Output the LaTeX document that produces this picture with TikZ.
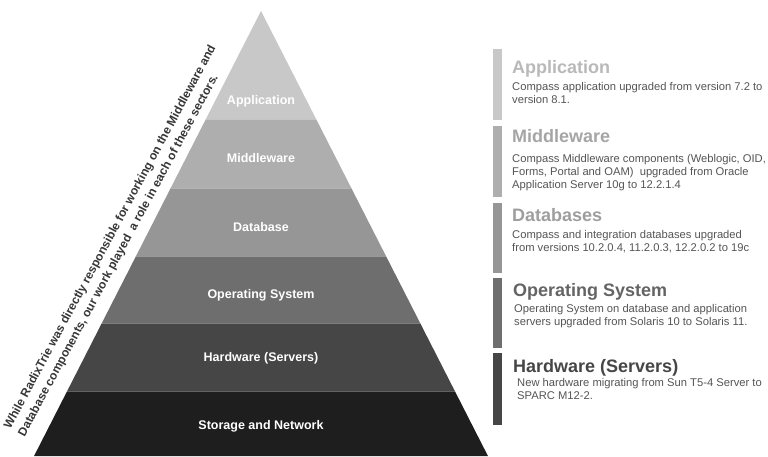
\documentclass[tikz,border=0pt]{standalone}
\usepackage{fontspec}
\setmainfont{Liberation Sans}
\definecolor{cApp}{RGB}{200,200,200}
\definecolor{cMid}{RGB}{174,174,174}
\definecolor{cDb}{RGB}{150,150,150}
\definecolor{cOs}{RGB}{110,110,110}
\definecolor{cHw}{RGB}{70,70,70}
\definecolor{cSt}{RGB}{30,30,30}
\definecolor{tApp}{RGB}{185,185,185}
\definecolor{tMid}{RGB}{165,165,165}
\definecolor{tDb}{RGB}{158,158,158}
\definecolor{tOs}{RGB}{100,100,100}
\definecolor{tHw}{RGB}{70,70,70}
\definecolor{descgray}{RGB}{85,85,85}
\definecolor{sidegray}{RGB}{55,55,55}
\newcommand\pyrband[3]{\fill[#3] ({261-0.51*(#1-11)},#1) -- ({261+0.51*(#1-11)},#1) -- ({261+0.51*(#2-11)},#2) -- ({261-0.51*(#2-11)},#2) -- cycle;}
\begin{document}
\begin{tikzpicture}[x=1pt,y=-1pt,
  lvl/.style={font=\bfseries\fontsize{12.5}{14}\selectfont, text=white, anchor=base, inner sep=0pt},
  ttl/.style={font=\bfseries\fontsize{18}{20}\selectfont, anchor=base west, inner sep=0pt},
  dsc/.style={font=\fontsize{11.2}{13}\selectfont, text=descgray, anchor=base west, inner sep=0pt, align=left},
  sidebar/.style={fill=#1, draw=none}
]
\useasboundingbox (0,0) rectangle (768,456);
\fill[white] (0,0) rectangle (768,456);
% pyramid
\fill[cApp] (261,11) -- ({261+0.51*(119-11)},119) -- ({261-0.51*(119-11)},119) -- cycle;
\pyrband{119}{188}{cMid}
\pyrband{188}{256}{cDb}
\pyrband{256}{323}{cOs}
\pyrband{323}{391}{cHw}
\pyrband{391}{456}{cSt}
\foreach \yy in {119,188,256,323,391}
  \draw[white, draw opacity=0.3, line width=0.8pt] ({261-0.51*(\yy-11)},\yy) -- ({261+0.51*(\yy-11)},\yy);
% pyramid labels
\node[lvl] (lapp) at (261,104) {Application};
\node[lvl] (lmid) at (261,162) {Middleware};
\node[lvl] (ldb)  at (261,231) {Database};
\node[lvl] (los)  at (261,298) {Operating System};
\node[lvl] (lhw)  at (261,361) {Hardware (Servers)};
\node[lvl] (lst)  at (261,429) {Storage and Network};
% rotated side text
\node[font=\bfseries\fontsize{12}{16}\selectfont, text=sidegray, align=left, rotate=61.7, inner sep=0pt] (side) at (117.5,241)
  {While RadixTrie was directly responsible for working on the Middleware and\\Database components, our work played\ \ a role in each of these sectors.};
% right side bars
\fill[sidebar=cApp] (493,49) rectangle (502,120);
\fill[sidebar=cMid] (493,126) rectangle (502,197);
\fill[sidebar=cDb]  (493,203) rectangle (502,273);
\fill[sidebar=cOs]  (493,278) rectangle (502,348);
\fill[sidebar=cHw]  (493,353) rectangle (502,425);
% titles
\node[ttl, text=tApp] (tapp) at (512,73) {Application};
\node[ttl, text=tMid] (tmid) at (512,142) {Middleware};
\node[ttl, text=tDb]  (tdb)  at (512,221) {Databases};
\node[ttl, text=tOs]  (tos)  at (513,296) {Operating System};
\node[ttl, text=tHw]  (thw)  at (513,372) {Hardware (Servers)};
% descriptions (anchored at the baseline of their last line)
\node[dsc] (dapp) at (512,103) {Compass application upgraded from version 7.2 to\\version 8.1.};
\node[dsc] (dmid) at (512,188) {Compass Middleware components (Weblogic, OID,\\Forms, Portal and OAM)\ \ upgraded from Oracle\\Application Server 10g to 12.2.1.4};
\node[dsc] (ddb)  at (512,251) {Compass and integration databases upgraded\\from versions 10.2.0.4, 11.2.0.3, 12.2.0.2 to 19c};
\node[dsc] (dos)  at (514,325) {Operating System on database and application\\servers upgraded from Solaris 10 to Solaris 11.};
\node[dsc] (dhw)  at (517,399) {New hardware migrating from Sun T5-4 Server to\\SPARC M12-2.};
\end{tikzpicture}
\end{document}
